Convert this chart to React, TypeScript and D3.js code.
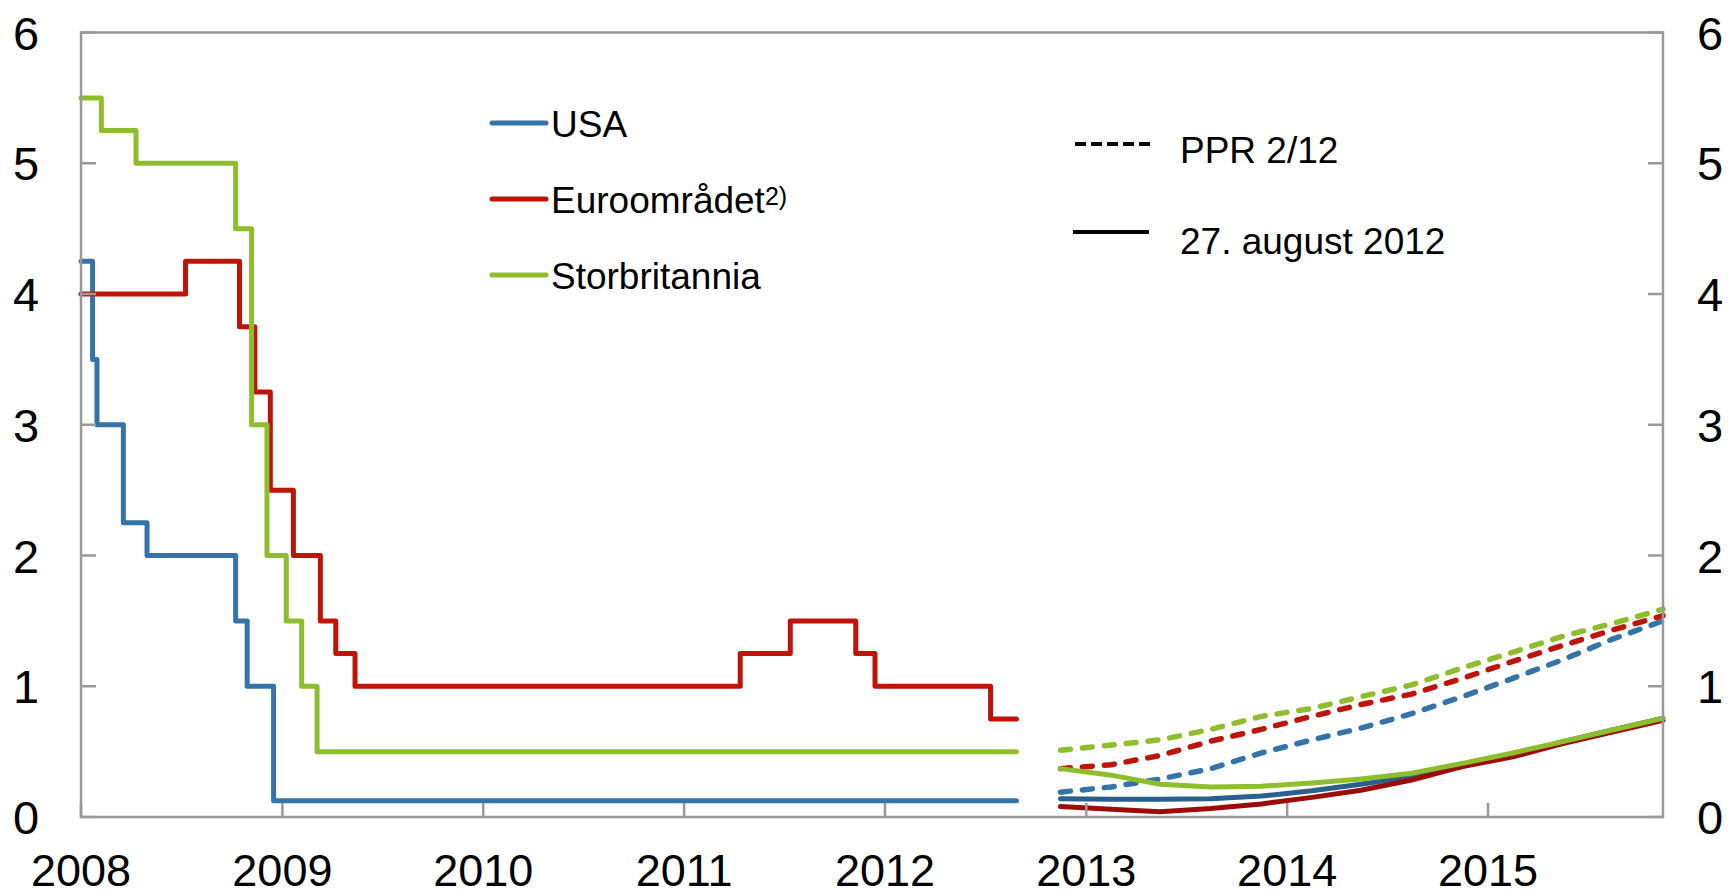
import React, { useEffect, useRef } from 'react';
import * as d3 from 'd3';

// policy rate history (step changes), date of change -> new rate
const usaDates = ['2008-01-01', '2008-01-22', '2008-01-30', '2008-03-18', '2008-04-30', '2008-10-08', '2008-10-29', '2008-12-16', '2012-08-27'];
const usaRates = [4.25, 3.5, 3.0, 2.25, 2.0, 1.5, 1.0, 0.125, 0.125];

const euroDates = ['2008-01-01', '2008-07-09', '2008-10-15', '2008-11-12', '2008-12-10', '2009-01-21', '2009-03-11', '2009-04-08', '2009-05-13', '2011-04-13', '2011-07-13', '2011-11-09', '2011-12-14', '2012-07-11', '2012-08-27'];
const euroRates = [4.0, 4.25, 3.75, 3.25, 2.5, 2.0, 1.5, 1.25, 1.0, 1.25, 1.5, 1.25, 1.0, 0.75, 0.75];

const ukDates = ['2008-01-01', '2008-02-07', '2008-04-10', '2008-10-08', '2008-11-06', '2008-12-04', '2009-01-08', '2009-02-05', '2009-03-05', '2012-08-27'];
const ukRates = [5.5, 5.25, 5.0, 4.5, 3.0, 2.0, 1.5, 1.0, 0.5, 0.5];

// market expectations, quarterly
const fcDates = ['2012-11-15', '2013-02-15', '2013-05-15', '2013-08-15', '2013-11-15', '2014-02-15', '2014-05-15', '2014-08-15', '2014-11-15', '2015-02-15', '2015-05-15', '2015-08-15', '2015-11-15'];
// PPR 2/12
const usaPpr = [0.19, 0.23, 0.29, 0.37, 0.49, 0.59, 0.68, 0.79, 0.92, 1.06, 1.2, 1.36, 1.5];
const euroPpr = [0.37, 0.4, 0.47, 0.58, 0.67, 0.77, 0.86, 0.94, 1.06, 1.19, 1.31, 1.43, 1.54];
const ukPpr = [0.51, 0.55, 0.59, 0.67, 0.77, 0.83, 0.92, 1.01, 1.14, 1.26, 1.38, 1.48, 1.59];
// 27. august 2012
const usaAug = [0.14, 0.135, 0.135, 0.14, 0.16, 0.2, 0.25, 0.31, 0.385, 0.475, 0.575, 0.665, 0.755];
const euroAug = [0.08, 0.06, 0.04, 0.065, 0.1, 0.15, 0.205, 0.283, 0.385, 0.46, 0.56, 0.65, 0.74];
const ukAug = [0.37, 0.32, 0.25, 0.23, 0.235, 0.26, 0.29, 0.335, 0.41, 0.49, 0.575, 0.665, 0.755];

const yearTicks = [2008, 2009, 2010, 2011, 2012, 2013, 2014, 2015];
const yTicks = [0, 1, 2, 3, 4, 5, 6];

const seriesNames = ['USA', 'Euroområdet', 'Storbritannia'];
const seriesColors = ['#3574ab', '#bf1509', '#8fbe2c'];
const darkColors = ['#2a5f8e', '#9e0c0a', '#8fbe2c'];

const FONT = '"Liberation Sans", Arial, sans-serif';

const App = () => {
  const ref = useRef(null);

  useEffect(() => {
    const svg = d3.select(ref.current);
    svg.selectAll('*').remove();

    const margin = { left: 81, right: 1663, top: 32.5, bottom: 817 };
    const parse = d3.timeParse('%Y-%m-%d');

    const x = d3.scaleTime()
      .domain([parse('2008-01-01'), parse('2015-11-15')])
      .range([margin.left, margin.right]);
    const y = d3.scaleLinear().domain([0, 6]).range([margin.bottom, margin.top]);

    const axisColor = '#999999';

    // history step lines
    const stepLine = d3.line().x((d) => x(d[0])).y((d) => y(d[1])).curve(d3.curveStepAfter);
    const hist = [
      [usaDates, usaRates],
      [euroDates, euroRates],
      [ukDates, ukRates],
    ];
    hist.forEach(([dates, rates], i) => {
      const pts = dates.map((d, j) => [parse(d), rates[j]]);
      svg.append('path')
        .attr('d', stepLine(pts))
        .attr('fill', 'none')
        .attr('stroke', seriesColors[i])
        .attr('stroke-width', 5)
        .attr('stroke-linejoin', 'round')
        .attr('stroke-linecap', 'round');
    });

    // forecasts
    const fcLine = d3.line().x((d) => x(d[0])).y((d) => y(d[1]));
    const ppr = [usaPpr, euroPpr, ukPpr];
    ppr.forEach((vals, i) => {
      const pts = fcDates.map((d, j) => [parse(d), vals[j]]);
      svg.append('path')
        .attr('d', fcLine(pts))
        .attr('fill', 'none')
        .attr('stroke', seriesColors[i])
        .attr('stroke-width', 5.5)
        .attr('stroke-dasharray', '10 12')
        .attr('stroke-linecap', 'round');
    });
    const aug = [usaAug, euroAug, ukAug];
    aug.forEach((vals, i) => {
      const pts = fcDates.map((d, j) => [parse(d), vals[j]]);
      svg.append('path')
        .attr('d', fcLine(pts))
        .attr('fill', 'none')
        .attr('stroke', darkColors[i])
        .attr('stroke-width', 5)
        .attr('stroke-linejoin', 'round')
        .attr('stroke-linecap', 'round');
    });

    // frame
    svg.append('rect')
      .attr('x', margin.left)
      .attr('y', margin.top)
      .attr('width', margin.right - margin.left)
      .attr('height', margin.bottom - margin.top)
      .attr('fill', 'none')
      .attr('stroke', axisColor)
      .attr('stroke-width', 2.5);

    // y ticks both sides
    yTicks.forEach((v) => {
      svg.append('line')
        .attr('x1', margin.left).attr('x2', margin.left + 15)
        .attr('y1', y(v)).attr('y2', y(v))
        .attr('stroke', axisColor).attr('stroke-width', 2.5);
      svg.append('line')
        .attr('x1', margin.right).attr('x2', margin.right - 15)
        .attr('y1', y(v)).attr('y2', y(v))
        .attr('stroke', axisColor).attr('stroke-width', 2.5);
      [26, 1710].forEach((lx) => {
        svg.append('text')
          .attr('x', lx).attr('y', y(v) + 17)
          .attr('text-anchor', 'middle')
          .attr('font-family', FONT).attr('font-size', 47)
          .text(v);
      });
    });

    // x ticks
    yearTicks.forEach((yr) => {
      const xp = x(new Date(yr, 0, 1));
      svg.append('line')
        .attr('x1', xp).attr('x2', xp)
        .attr('y1', margin.bottom).attr('y2', margin.bottom - 14)
        .attr('stroke', axisColor).attr('stroke-width', 2.5);
      svg.append('text')
        .attr('x', xp).attr('y', 886)
        .attr('text-anchor', 'middle')
        .attr('font-family', FONT).attr('font-size', 45)
        .text(yr);
    });

    // legend: countries
    const legY = [123, 199, 275];
    seriesNames.forEach((name, i) => {
      svg.append('line')
        .attr('x1', 492).attr('x2', 546)
        .attr('y1', legY[i]).attr('y2', legY[i])
        .attr('stroke', seriesColors[i]).attr('stroke-width', 5)
        .attr('stroke-linecap', 'round');
      const t = svg.append('text')
        .attr('x', 551).attr('y', legY[i] + 14)
        .attr('font-family', FONT).attr('font-size', 37)
        .text(name);
      if (i === 1) {
        t.append('tspan')
          .attr('font-size', 25)
          .attr('dy', -8)
          .text('2)');
      }
    });

    // legend: line styles
    svg.append('line')
      .attr('x1', 1075).attr('x2', 1150)
      .attr('y1', 144).attr('y2', 144)
      .attr('stroke', '#000').attr('stroke-width', 4)
      .attr('stroke-dasharray', '11 5');
    svg.append('text')
      .attr('x', 1180).attr('y', 163)
      .attr('font-family', FONT).attr('font-size', 37)
      .text('PPR 2/12');
    svg.append('line')
      .attr('x1', 1073).attr('x2', 1149)
      .attr('y1', 232).attr('y2', 232)
      .attr('stroke', '#000').attr('stroke-width', 4);
    svg.append('text')
      .attr('x', 1180).attr('y', 254)
      .attr('font-family', FONT).attr('font-size', 37)
      .text('27. august 2012');
  }, []);

  return (
    <div style={{ position: 'absolute', left: 0, top: 0 }}>
      <svg ref={ref} width={1736} height={896} style={{ display: 'block', background: '#fff' }} />
    </div>
  );
};

export default App;
